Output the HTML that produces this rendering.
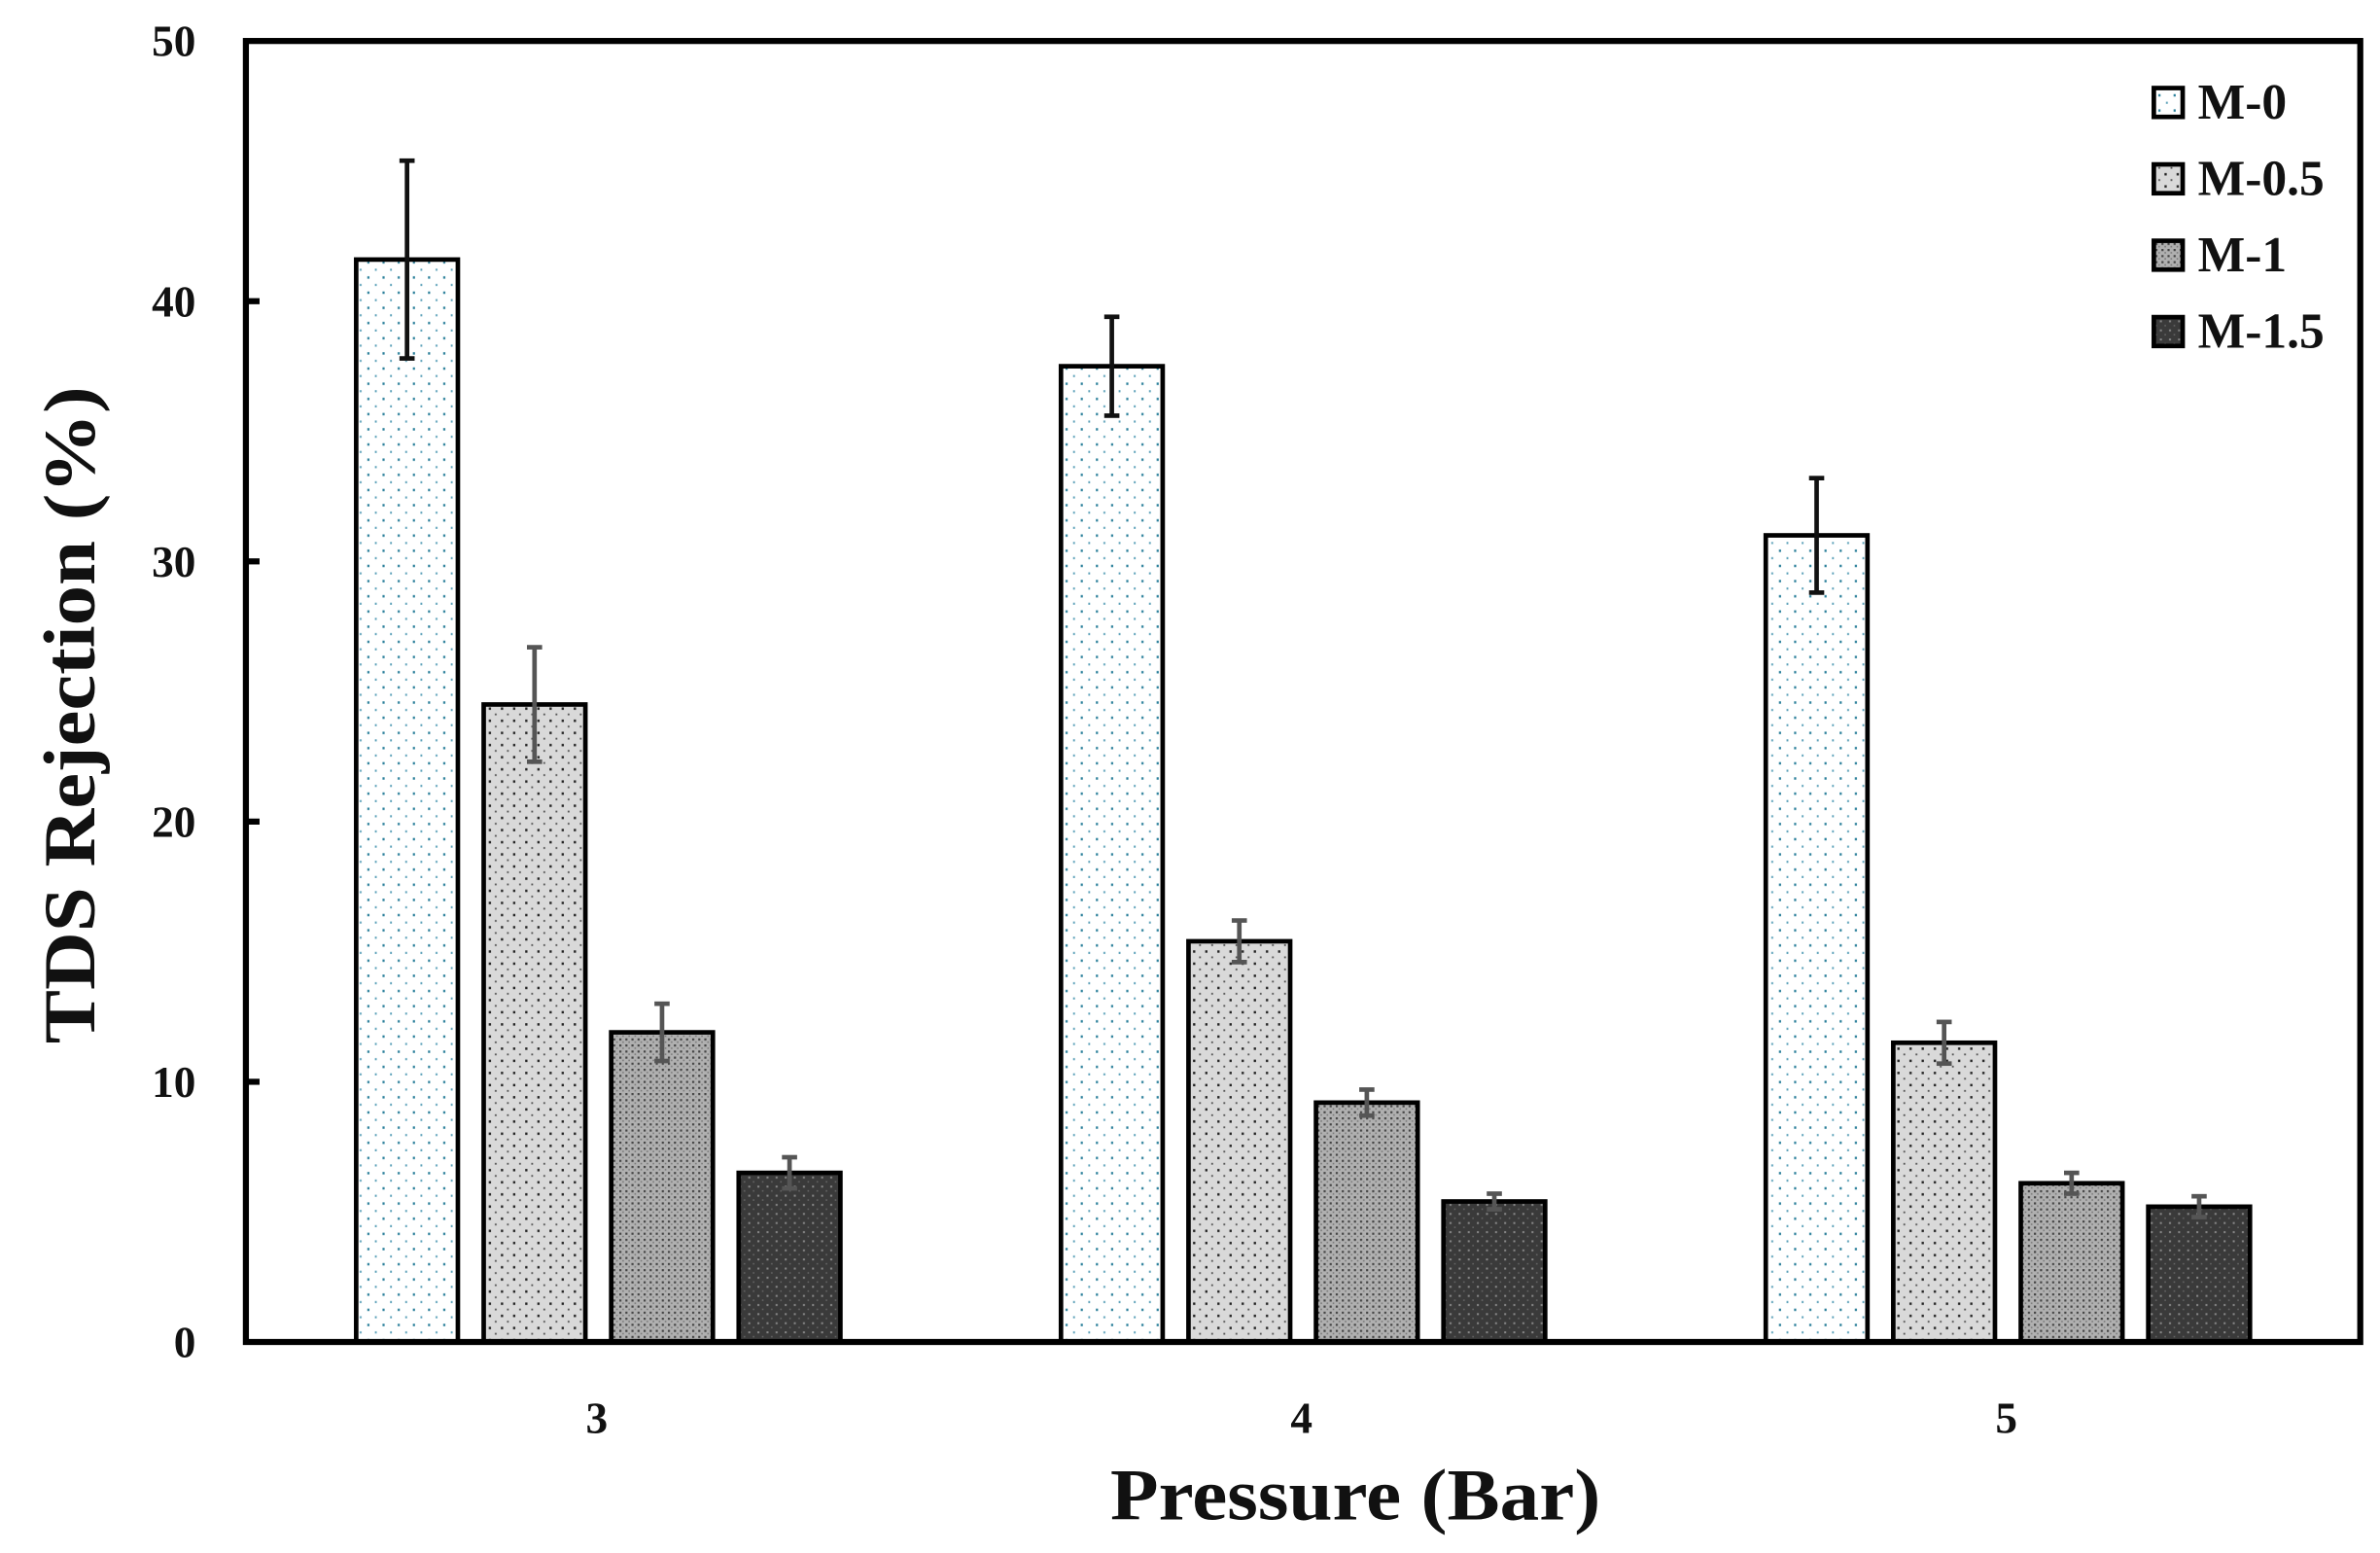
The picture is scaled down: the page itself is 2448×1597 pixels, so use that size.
<!DOCTYPE html>
<html><head><meta charset="utf-8"><style>
html,body{margin:0;padding:0;background:#fff;}
svg{display:block;}
text{font-family:"Liberation Serif",serif;font-weight:bold;fill:#111;}
</style></head><body>
<svg id="chart" width="2448" height="1597" viewBox="0 0 1568 1023" preserveAspectRatio="none" xmlns="http://www.w3.org/2000/svg">
<defs>
<pattern id="p0" width="10" height="10" patternUnits="userSpaceOnUse"><rect width="10" height="10" fill="#fff"/><rect x="2" y="2" width="1.4" height="1.6" fill="#2a7f9a"/><rect x="7" y="7" width="1.2" height="1.4" fill="#5aa0b8"/></pattern>
<pattern id="p1" width="8" height="8" patternUnits="userSpaceOnUse"><rect width="8" height="8" fill="#d9d9d9"/><rect x="2" y="2" width="1.5" height="1.6" fill="#222"/><rect x="6" y="6" width="1.2" height="1.2" fill="#555"/></pattern>
<pattern id="p2" width="4" height="4" patternUnits="userSpaceOnUse"><rect width="4" height="4" fill="#b0b0b0"/><rect x="0" y="0" width="1.4" height="1.4" fill="#444"/><rect x="2" y="2" width="1" height="1" fill="#777"/></pattern>
<pattern id="p3" width="6" height="6" patternUnits="userSpaceOnUse"><rect width="6" height="6" fill="#3a3a3a"/><rect x="1" y="1" width="1.3" height="1.3" fill="#888"/><rect x="4" y="4" width="1" height="1" fill="#666"/></pattern>
</defs>
<g id="bars"></g>
<g id="errs"></g>
<rect x="162" y="27" width="1393" height="857" fill="none" stroke="#000" stroke-width="4"/>
<g id="yaxis"></g>
<g id="xaxis"></g>
<text transform="translate(62,471) rotate(-90)" text-anchor="middle" font-size="48" textLength="433" lengthAdjust="spacingAndGlyphs">TDS Rejection (%)</text>
<text x="893" y="1001" text-anchor="middle" font-size="48" textLength="323" lengthAdjust="spacingAndGlyphs">Pressure (Bar)</text>
<g id="legend"></g>
</svg>
<script>
const categories = ["3","4","5"];
const seriesNames = ["M-0","M-0.5","M-1","M-1.5"];
const m0 = [41.6, 37.5, 31.0];
const m05 = [24.5, 15.4, 11.5];
const m1 = [11.9, 9.2, 6.1];
const m15 = [6.5, 5.4, 5.2];
const err0 = [3.8, 1.9, 2.2];
const err05 = [2.2, 0.8, 0.8];
const err1 = [1.1, 0.5, 0.4];
const err15 = [0.6, 0.3, 0.4];
const yTicks = [0,10,20,30,40,50];

const series=[m0,m05,m1,m15], errs=[err0,err05,err1,err15];
const fills=["url(#p0)","url(#p1)","url(#p2)","url(#p3)"];
const errColors=["#111","#555","#555","#555"];
const X0=162,X1=1555,Y0=884,Y1=27;
const yScale=v=>Y0-(v/50)*(Y0-Y1);
const band=(X1-X0)/categories.length;
const xCenter=i=>X0+band*(i+0.5);
const barW=67, step=84;
const NS="http://www.w3.org/2000/svg";
function mk(t,a,p){const e=document.createElementNS(NS,t);for(const k in a)e.setAttribute(k,a[k]);p.appendChild(e);return e;}
const gb=document.getElementById('bars'),ge=document.getElementById('errs');
categories.forEach((c,i)=>{
  series.forEach((s,j)=>{
    const x=xCenter(i)+(j-1.5)*step-barW/2;
    const r=mk('rect',{x:x,y:yScale(s[i]),width:barW,height:Y0-yScale(s[i]),fill:fills[j],stroke:'#000','stroke-width':3},gb);
    
    
    const cx=x+barW/2, hi=yScale(s[i]+errs[j][i]), lo=yScale(s[i]-errs[j][i]);
    const g=mk('g',{stroke:errColors[j],'stroke-width':3},ge);
    
    
    mk('line',{x1:cx,x2:cx,y1:hi,y2:lo},g);
    mk('line',{x1:cx-5,x2:cx+5,y1:hi,y2:hi},g);
    mk('line',{x1:cx-5,x2:cx+5,y1:lo,y2:lo},g);
  });
  const t=mk('text',{x:xCenter(i)-1,y:944,'text-anchor':'middle','font-size':29},document.getElementById('xaxis'));
  t.textContent=c;
  
  
});
const gy=document.getElementById('yaxis');
yTicks.forEach(v=>{
  const y=yScale(v);
  if(v>0&&v<50){const l=mk('line',{x1:X0,x2:X0+9,y1:y,y2:y,stroke:'#000','stroke-width':4},gy);
    
    }
  const t=mk('text',{x:129,y:y+10,'text-anchor':'end','font-size':29},gy);
  t.textContent=v;
  
  
});
const gl=document.getElementById('legend');
seriesNames.forEach((n,j)=>{
  const y=67+j*50.3;
  const g=mk('g',{},gl);
  
  
  mk('rect',{x:1419,y:y-9,width:19,height:19,fill:fills[j],stroke:'#000','stroke-width':3},g);
  const t=mk('text',{x:1448,y:y+11,'font-size':33},g);
  t.textContent=n;
});
</script>
</body></html>
